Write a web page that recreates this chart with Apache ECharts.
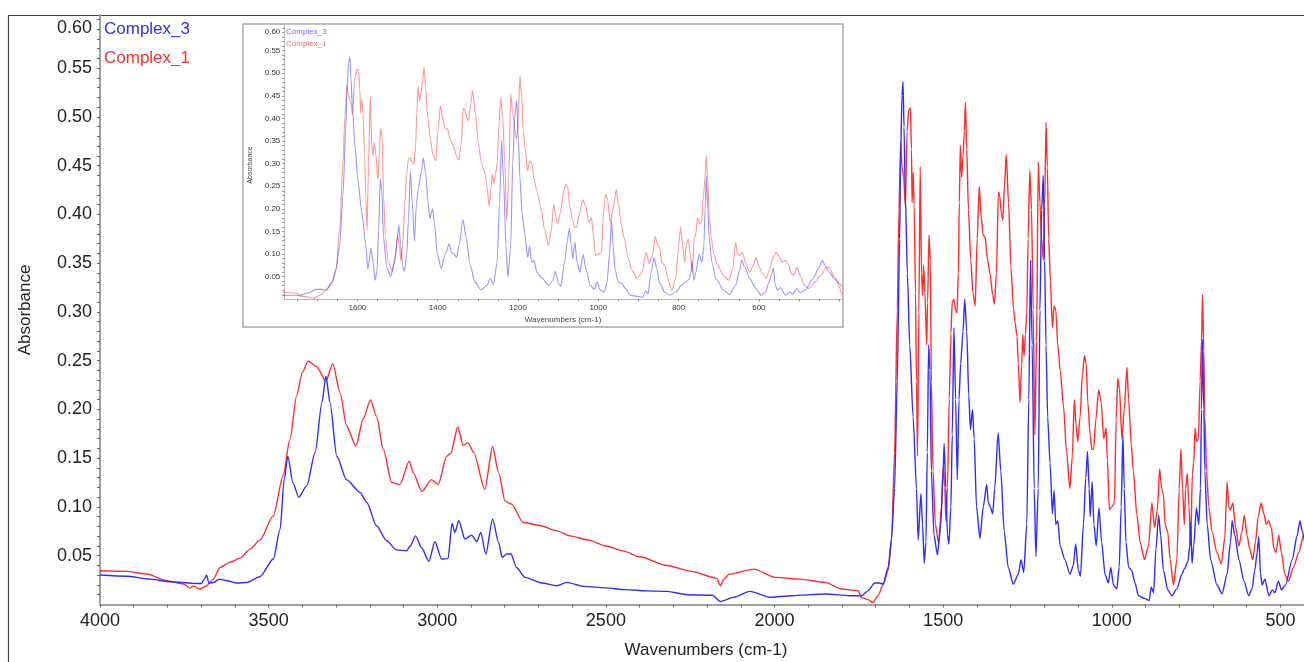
<!DOCTYPE html>
<html><head><meta charset="utf-8">
<script src="https://cdn.jsdelivr.net/npm/echarts@6/dist/echarts.min.js"></script>
<style>html,body{margin:0;padding:0;background:#fff}#c{width:1304px;height:662px}</style>
</head><body><div id="c"></div>
<script>
const seriesNames = ['Complex_3', 'Complex_1'];

// Complex_3 (blue) : wavenumber (cm-1) and absorbance
const c3Wn = [4000,3921,3852,3792,3723,3699,3691,3684,3677,3664,3646,3624,3595,3565,3526,3486,3466,3454,3443,3428,3411,3387,3362,3342,3330,3318,3298,3269,3229,3209,3180,3150,3121,3091,3080,3064,3046,3025,3007,2987,2968,2956,2948,2936,2918,2898,2883,2871,2856,2836,2818,2808,2794,2782,2765,2740,2690,2646,2616,2566,2500,2443,2380,2319,2258,2184,2160,2122,2073,2011,1950,1850,1777,
1742,1723,1703,1690,1678,1663,1653,1644,1636,1629,1626,1622,1619,1616,1612,1606,1599,1589,1579,1574,1566,1561,1556,1551,1547,1543,1539,1535,1527,1517,1507,1500,1497,1492,1487,1483,1477,1473,1468,1463,1458,1453,1448,1441,1436,1430,1424,1419,1413,1408,1401,1391,1381,1371,1366,1360,1353,1347,1337,1329,1319,1307,1292,1277,1269,1261,1252,1246,1241,1236,1230,1225,1218,1213,1208,1203,1199,1195,1190,1183,1176,1171,1166,1160,1153,1139,1124,1114,1107,1099,1093,1084,1077,1072,1067,1064,1058,1053,1046,1038,1030,1020,1010,1003,995,985,978,972,967,963,958,950,941,931,921,901,889,883,876,869,861,855,847,834,822,807,792,784,774,769,766,762,757,749,742,737,734,731,727,724,717,707,688,673,658,648,643,635,623,608,594,584,576,569,564,559,554,546,534,524,516,506,497,485,465,450,442,435,425,412,400,393];
const c3Abs = [0.0302,0.029,0.026,0.0233,0.0217,0.0215,0.026,0.030,0.022,0.0225,0.026,0.0244,0.022,0.0225,0.0285,0.0466,0.077,0.128,0.1517,0.125,0.110,0.1216,0.156,0.207,0.234,0.207,0.152,0.128,0.115,0.1046,0.0807,0.0653,0.056,0.055,0.060,0.0704,0.058,0.0442,0.0643,0.0466,0.047,0.0834,0.0739,0.0858,0.067,0.0711,0.0643,0.0739,0.0517,0.0875,0.0637,0.0483,0.0517,0.052,0.038,0.0278,0.022,0.0193,0.0227,0.0186,0.017,0.0152,0.014,0.0135,0.010,0.0095,0.003,0.0073,0.0135,0.0073,0.009,0.0107,0.009,
0.009,0.014,0.022,0.022,0.021,0.038,0.068,0.119,0.229,0.375,0.46,0.522,0.536,0.49,0.419,0.339,0.266,0.192,0.119,0.066,0.1136,0.082,0.042,0.064,0.156,0.266,0.24,0.137,0.071,0.051,0.082,0.137,0.165,0.119,0.071,0.062,0.1,0.174,0.284,0.21,0.128,0.21,0.247,0.28,0.313,0.28,0.214,0.179,0.2,0.17,0.10,0.068,0.10,0.123,0.104,0.10,0.093,0.119,0.176,0.137,0.075,0.038,0.021,0.031,0.046,0.033,0.082,0.21,0.353,0.266,0.119,0.049,0.119,0.302,0.405,0.44,0.353,0.266,0.192,0.145,0.093,0.117,0.082,0.086,0.06,0.046,0.031,0.04,0.062,0.035,0.029,0.082,0.13,0.157,0.119,0.09,0.126,0.082,0.06,0.099,0.064,0.031,0.022,0.038,0.02,0.016,0.038,0.1,0.174,0.119,0.064,0.038,0.035,0.022,0.009,0.006,0.004,0.018,0.012,0.057,0.0916,0.071,0.035,0.015,0.009,0.016,0.031,0.037,0.044,0.06,0.084,0.042,0.06,0.099,0.082,0.119,0.2,0.272,0.2,0.137,0.082,0.046,0.02,0.011,0.031,0.064,0.086,0.071,0.046,0.024,0.009,0.016,0.035,0.053,0.0696,0.031,0.02,0.026,0.009,0.015,0.012,0.024,0.015,0.02,0.046,0.071,0.086,0.075,0.06,0.045,0.035,0.028];

// Complex_1 (red)
const c1Wn = [4000,3921,3862,3802,3753,3733,3723,3704,3684,3664,3644,3615,3585,3555,3526,3486,3457,3437,3417,3400,3383,3358,3330,3310,3288,3269,3241,3220,3198,3180,3160,3135,3111,3083,3071,3046,3017,2997,2972,2960,2939,2923,2909,2892,2859,2836,2818,2799,2780,2745,2695,2646,2606,2550,2500,2450,2400,2319,2246,2172,2160,2150,2135,2061,1999,1925,1850,1801,1752,
1742,1723,1708,1693,1678,1663,1653,1644,1636,1631,1626,1622,1617,1612,1607,1602,1597,1594,1592,1589,1586,1582,1579,1576,1572,1568,1564,1561,1558,1554,1549,1546,1542,1538,1535,1530,1523,1513,1505,1500,1495,1492,1487,1482,1477,1473,1468,1463,1459,1455,1452,1449,1445,1441,1437,1434,1430,1425,1418,1412,1405,1399,1393,1387,1382,1376,1368,1361,1353,1348,1342,1336,1332,1327,1323,1318,1313,1306,1299,1291,1286,1281,1277,1272,1267,1264,1260,1256,1252,1248,1243,1238,1233,1228,1223,1218,1213,1208,1203,1199,1195,1191,1187,1182,1176,1171,1166,1160,1153,1143,1134,1124,1117,1111,1106,1101,1094,1087,1081,1076,1071,1064,1059,1054,1047,1039,1031,1024,1017,1013,1007,1000,992,987,982,977,970,963,955,950,942,936,926,916,903,891,881,873,865,858,852,847,842,834,827,817,807,800,795,790,785,781,776,771,766,761,757,753,748,743,738,734,731,727,724,719,712,703,688,675,665,658,653,648,641,633,623,614,607,599,591,582,574,566,557,549,542,535,527,519,513,505,497,487,476,461,446,431,426,412,393];
const c1Abs = [0.0346,0.034,0.0312,0.0244,0.021,0.0169,0.019,0.0159,0.0193,0.026,0.038,0.0432,0.0475,0.0568,0.066,0.0909,0.132,0.169,0.214,0.238,0.2496,0.244,0.229,0.247,0.217,0.183,0.1626,0.190,0.2097,0.193,0.159,0.125,0.123,0.147,0.135,0.116,0.128,0.123,0.152,0.155,0.182,0.163,0.166,0.156,0.118,0.162,0.135,0.106,0.103,0.084,0.081,0.0755,0.0704,0.066,0.060,0.055,0.049,0.040,0.034,0.027,0.0193,0.026,0.031,0.0363,0.0278,0.026,0.0227,0.0159,0.0141,
0.007,0.005,0.002,0.009,0.02,0.035,0.064,0.156,0.302,0.405,0.474,0.449,0.438,0.408,0.485,0.507,0.509,0.467,0.412,0.443,0.41,0.32,0.229,0.152,0.3,0.449,0.339,0.317,0.348,0.32,0.266,0.31,0.379,0.353,0.229,0.137,0.082,0.062,0.1,0.141,0.12,0.086,0.12,0.21,0.278,0.31,0.313,0.302,0.299,0.339,0.412,0.471,0.438,0.46,0.485,0.515,0.467,0.405,0.353,0.32,0.306,0.375,0.4286,0.397,0.379,0.377,0.353,0.339,0.317,0.308,0.339,0.423,0.418,0.401,0.394,0.43,0.4615,0.412,0.346,0.302,0.288,0.275,0.247,0.207,0.245,0.277,0.255,0.277,0.3,0.375,0.445,0.405,0.302,0.174,0.27,0.454,0.412,0.375,0.353,0.41,0.4945,0.449,0.375,0.331,0.284,0.306,0.302,0.266,0.24,0.203,0.156,0.119,0.152,0.21,0.185,0.167,0.192,0.236,0.255,0.247,0.207,0.174,0.159,0.159,0.19,0.22,0.207,0.17,0.181,0.148,0.097,0.1,0.104,0.19,0.232,0.221,0.17,0.2,0.243,0.21,0.163,0.137,0.093,0.064,0.046,0.06,0.104,0.079,0.097,0.139,0.119,0.113,0.082,0.075,0.046,0.02,0.046,0.119,0.159,0.119,0.082,0.119,0.134,0.1,0.06,0.134,0.145,0.181,0.167,0.17,0.229,0.27,0.318,0.26,0.192,0.137,0.1,0.075,0.053,0.042,0.068,0.126,0.1,0.097,0.104,0.079,0.06,0.075,0.0916,0.071,0.057,0.046,0.064,0.09,0.104,0.093,0.082,0.086,0.079,0.057,0.053,0.071,0.053,0.031,0.024,0.038,0.053,0.071,0.072,0.05,0.009];

const xTickLabels = [4000, 3500, 3000, 2500, 2000, 1500, 1000, 500];
const yTickLabels = [0.05, 0.10, 0.15, 0.20, 0.25, 0.30, 0.35, 0.40, 0.45, 0.50, 0.55, 0.60];
const insetXTickLabels = [1600, 1400, 1200, 1000, 800, 600];
const xTitle = 'Wavenumbers (cm-1)';
const yTitle = 'Absorbance';

const BLUE = 'rgb(45,45,255)';
const RED = 'rgb(255,45,45)';
const FONT = '"Liberation Sans", Arial, sans-serif';

function pairs(xs, ys) { return xs.map((x, i) => [x, ys[i]]); }
function range(a, b, step) { const r = []; for (let v = a; v <= b + 1e-9; v += step) r.push(+v.toFixed(4)); return r; }

const xMinorMain = range(500, 4000, 100);
const yMinorMain = range(0.01, 0.60, 0.01);
const xMinorInset = range(400, 1750, 50);
const yMinorInset = range(0.01, 0.60, 0.01);

const chart = echarts.init(document.getElementById('c'), null, {renderer: 'canvas'});

const axisGray = '#a0a0a0';
const yFmt = v => Math.abs(v - 0.6) < 1e-6 ? '{top|0.60}' : v.toFixed(2);
const lineBase = {type: 'line', showSymbol: false, symbol: 'none', smooth: 0.25, smoothMonotone: 'x', silent: true};
const option = {
  animation: false,
  backgroundColor: '#fff',
  grid: [
    {left: 100, top: 15, width: 1204, height: 589.5},
    {left: 284.3, top: 24, width: 557.7, height: 275.3}
  ],
  xAxis: [
    {type: 'value', gridIndex: 0, inverse: true, min: 430, max: 4000,
     axisLine: {show: true, onZero: false, lineStyle: {color: axisGray, width: 2}},
     axisTick: {show: true, customValues: xMinorMain, length: 3, lineStyle: {color: '#666', width: 1}},
     axisLabel: {customValues: xTickLabels, formatter: v => String(v), fontSize: 18, color: '#222', margin: 8, fontFamily: FONT},
     splitLine: {show: false}},
    {type: 'value', gridIndex: 1, inverse: true, min: 393, max: 1782,
     axisLine: {show: true, onZero: false, lineStyle: {color: '#b8b8b8', width: 1}},
     axisTick: {show: true, customValues: xMinorInset, length: 2, lineStyle: {color: '#888', width: 1}},
     axisLabel: {customValues: insetXTickLabels, formatter: v => String(v), fontSize: 8, color: '#333', margin: 4, fontFamily: FONT},
     splitLine: {show: false}}
  ],
  yAxis: [
    {type: 'value', gridIndex: 0, min: 0, max: 0.6044,
     axisLine: {show: true, onZero: false, lineStyle: {color: axisGray, width: 2}},
     axisTick: {show: true, customValues: yMinorMain, length: 3, lineStyle: {color: '#666', width: 1}},
     axisLabel: {customValues: yTickLabels, fontSize: 18, color: '#222', margin: 8, fontFamily: FONT,
       formatter: yFmt,
       rich: {top: {fontSize: 18, color: '#222', fontFamily: FONT, padding: [17, 0, 0, 0]}}},
     splitLine: {show: false}},
    {type: 'value', gridIndex: 1, min: 0, max: 0.609,
     axisLine: {show: true, onZero: false, lineStyle: {color: '#b8b8b8', width: 1}},
     axisTick: {show: true, customValues: yMinorInset, length: 2, lineStyle: {color: '#888', width: 1}},
     axisLabel: {customValues: yTickLabels, fontSize: 8, color: '#333', margin: 4, fontFamily: FONT,
       formatter: yFmt,
       rich: {top: {fontSize: 8, color: '#333', fontFamily: FONT, padding: [7, 0, 0, 0]}}},
     splitLine: {show: false}}
  ],
  series: [
    Object.assign({}, lineBase, {name: seriesNames[1], xAxisIndex: 0, yAxisIndex: 0, data: pairs(c1Wn, c1Abs),
     lineStyle: {color: RED, width: 1.4}, itemStyle: {color: RED}}),
    Object.assign({}, lineBase, {name: seriesNames[0], xAxisIndex: 0, yAxisIndex: 0, data: pairs(c3Wn, c3Abs),
     lineStyle: {color: BLUE, width: 1.4}, itemStyle: {color: BLUE}}),
    Object.assign({}, lineBase, {name: seriesNames[1] + ' (inset)', xAxisIndex: 1, yAxisIndex: 1, data: pairs(c1Wn, c1Abs),
     lineStyle: {color: RED, width: 1.1, opacity: 0.5}, itemStyle: {color: RED}}),
    Object.assign({}, lineBase, {name: seriesNames[0] + ' (inset)', xAxisIndex: 1, yAxisIndex: 1, data: pairs(c3Wn, c3Abs),
     lineStyle: {color: BLUE, width: 1.1, opacity: 0.5}, itemStyle: {color: BLUE}})
  ],
  graphic: [
    {type: 'rect', shape: {x: 8.5, y: 15.5, width: 1310, height: 660}, style: {fill: 'none', stroke: '#444', lineWidth: 1.2}, z: 0, silent: true},
    {type: 'rect', shape: {x: 243, y: 24, width: 600, height: 303}, style: {fill: 'none', stroke: '#aaa', lineWidth: 1.5}, z: 0, silent: true},
    {type: 'text', left: 104, top: 21, style: {text: seriesNames[0], fill: BLUE, font: '17px ' + FONT}, silent: true},
    {type: 'text', left: 104, top: 50, style: {text: seriesNames[1], fill: RED, font: '17px ' + FONT}, silent: true},
    {type: 'text', left: 286, top: 28, style: {text: seriesNames[0], fill: 'rgba(60,60,255,0.8)', font: '8px ' + FONT}, silent: true},
    {type: 'text', left: 286, top: 40, style: {text: seriesNames[1], fill: 'rgba(255,60,60,0.8)', font: '8px ' + FONT}, silent: true},
    {type: 'text', x: 25, y: 310, rotation: Math.PI / 2, style: {text: yTitle, fill: '#222', font: '17px ' + FONT, align: 'center', verticalAlign: 'middle'}, silent: true},
    {type: 'text', x: 706, y: 650, style: {text: xTitle, fill: '#222', font: '17px ' + FONT, align: 'center', verticalAlign: 'middle'}, silent: true},
    {type: 'text', x: 250, y: 165, rotation: Math.PI / 2, style: {text: yTitle, fill: '#444', font: '7px ' + FONT, align: 'center', verticalAlign: 'middle'}, silent: true},
    {type: 'text', x: 563, y: 320, style: {text: xTitle, fill: '#444', font: '8px ' + FONT, align: 'center', verticalAlign: 'middle'}, silent: true}
  ]
};
chart.setOption(option);
</script>
</body></html>
